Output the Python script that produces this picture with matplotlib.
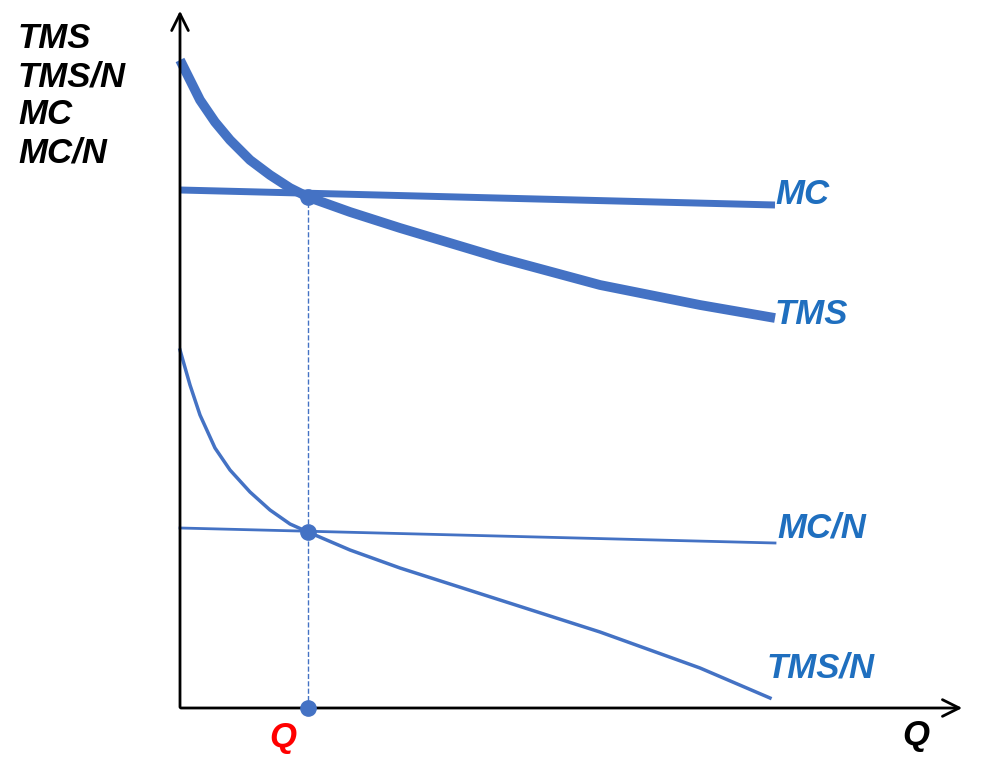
import matplotlib.pyplot as plt

# Values (x = quantity, y = value), arbitrary units
tms_x = [0, 10, 20, 35, 50, 70, 90, 110, 128, 170, 220, 320, 420, 520, 595]
tms_y = [648, 628, 608, 586, 568, 548, 533, 520, 511, 496, 480, 450, 423, 403, 390]
mc_x = [0, 595]
mc_y = [518, 503]
tmsn_x = [0, 10, 20, 35, 50, 70, 90, 110, 128, 170, 220, 320, 420, 520, 590]
tmsn_y = [358, 323, 293, 260, 238, 216, 198, 184, 176, 158, 140, 108, 76, 40, 10]
mcn_x = [0, 595]
mcn_y = [180, 165]
q_star = 128
blue = "#4472C4"
label_blue = "#1F6FBF"

fig = plt.figure(figsize=(9.87, 7.68), dpi=100)
ax = fig.add_axes([0, 0, 1, 1])
ax.set_xlim(-180, 807)
ax.set_ylim(-60, 708)
ax.axis("off")

ax.plot(tms_x, tms_y, color=blue, lw=7, solid_capstyle="butt")
ax.plot(mc_x, mc_y, color=blue, lw=5, solid_capstyle="butt")
ax.plot(tmsn_x, tmsn_y, color=blue, lw=2.5)
ax.plot(mcn_x, mcn_y, color=blue, lw=2)

# equilibrium guide
ax.plot([q_star, q_star], [0, 511], color=blue, lw=1, ls="--")
ax.plot([q_star, q_star, q_star], [511, 176, 0], "o", color=blue, ms=11, zorder=5)

# axes arrows
ax.annotate("", xy=(0, 700), xytext=(0, -2),
            arrowprops=dict(arrowstyle="->", lw=2, color="black", mutation_scale=30))
ax.annotate("", xy=(785, 0), xytext=(-2, 0),
            arrowprops=dict(arrowstyle="->", lw=2, color="black", mutation_scale=30))

font = dict(fontsize=25, fontweight="bold", style="italic", family="Liberation Sans")
ax.text(-162, 686, "TMS\nTMS/N\nMC\nMC/N", va="top", ha="left", linespacing=1.2, **font)
ax.text(595, 513, "MC", color=label_blue, va="center", **font)
ax.text(595, 393, "TMS", color=label_blue, va="center", **font)
ax.text(597, 180, "MC/N", color=label_blue, va="center", **font)
ax.text(587, 40, "TMS/N", color=label_blue, va="center", **font)
ax.text(722, -28, "Q", color="black", va="center", **font)
ax.text(q_star - 12, -30, "Q", color="red", ha="right", va="center", **font)

fig.savefig("out.png", dpi=100)
